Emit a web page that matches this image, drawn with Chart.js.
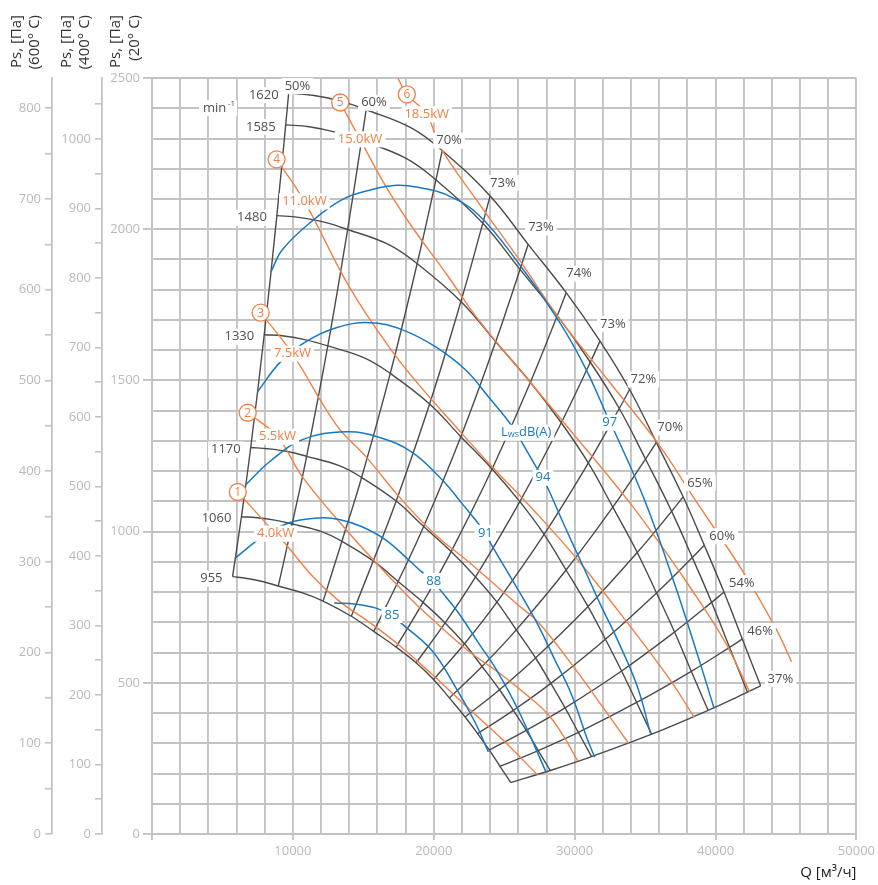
<!DOCTYPE html>
<html>
<head>
<meta charset="utf-8">
<script src="https://cdn.jsdelivr.net/npm/chart.js@4.4.0/dist/chart.umd.min.js"></script>
<style>
  html, body { margin: 0; padding: 0; background: #fff; }
  #wrap { width: 878px; height: 885px; }
</style>
</head>
<body>
<div id="wrap"><canvas id="chart1" width="878" height="885"></canvas></div>
<script>
  "use strict";

  // fan speeds, min-1 (points along each curve: flow Q m3/h, static pressure Pa at 20 C)
  var speeds = [1620, 1585, 1480, 1330, 1170, 1060, 955];
  var q1620 = [9700, 11400, 13300, 15200, 18400, 20600, 24000, 26700, 29400, 31800, 33900, 35800, 37700, 39200, 40600, 41900, 43200];
  var p1620 = [2450, 2443, 2425, 2395, 2335, 2260, 2110, 1950, 1790, 1630, 1470, 1295, 1115, 955, 800, 645, 490];
  var q1585 = [9490, 11154, 13013, 14872, 18003, 20155, 23482, 26123, 28765, 31113, 33168, 35027, 36886, 38353, 39723, 40995, 42267];
  var p1585 = [2345, 2339, 2321, 2293, 2235, 2163, 2020, 1867, 1714, 1560, 1407, 1240, 1067, 914, 766, 617, 469];
  var q1480 = [8862, 10415, 12151, 13886, 16810, 18820, 21926, 24393, 26859, 29052, 30970, 32706, 34442, 35812, 37091, 38279, 39467];
  var p1480 = [2045, 2039, 2024, 1999, 1949, 1886, 1761, 1628, 1494, 1360, 1227, 1081, 931, 797, 668, 538, 409];
  var q1330 = [7964, 9359, 10919, 12479, 15106, 16912, 19704, 21920, 24137, 26107, 27832, 29391, 30951, 32183, 33332, 34399, 35467];
  var p1330 = [1651, 1647, 1634, 1614, 1574, 1523, 1422, 1314, 1207, 1099, 991, 873, 752, 644, 539, 435, 330];
  var q1170 = [7006, 8233, 9606, 10978, 13289, 14878, 17333, 19283, 21233, 22967, 24483, 25856, 27228, 28311, 29322, 30261, 31200];
  var p1170 = [1278, 1274, 1265, 1249, 1218, 1179, 1101, 1017, 934, 850, 767, 675, 582, 498, 417, 336, 256];
  var q1060 = [6347, 7459, 8702, 9946, 12039, 13479, 15704, 17470, 19237, 20807, 22181, 23425, 24668, 25649, 26565, 27416, 28267];
  var p1060 = [1049, 1046, 1038, 1025, 1000, 968, 903, 835, 766, 698, 629, 554, 477, 409, 343, 276, 210];
  var q955 = [5718, 6720, 7840, 8961, 10847, 12144, 14148, 15740, 17332, 18746, 19984, 21104, 22225, 23109, 23934, 24700, 25467];
  var p955 = [851, 845, 835, 820, 795, 770, 720, 670, 618, 566, 511, 450, 387, 332, 278, 224, 170];

  // efficiency lines run through these points of every speed curve
  var effCols = [0, 3, 5, 6, 7, 8, 9, 10, 11, 12, 13, 14, 15, 16];
  var effLabels = ['50%', '60%', '70%', '73%', '73%', '74%', '73%', '72%', '70%', '65%', '60%', '54%', '46%', '37%'];

  // shaft power lines
  var powerNames = ['1', '2', '3', '4', '5', '6'];
  var powerLabels = ['4.0kW', '5.5kW', '7.5kW', '11.0kW', '15.0kW', '18.5kW'];
  var pw1Q = [6090, 8772, 9407, 11383, 13288, 15405, 17523, 19851, 22462, 24933, 27403];
  var pw1P = [1131, 993, 963, 853, 770, 701, 625, 529, 416, 310, 194];
  var pw2Q = [6796, 8913, 10677, 13782, 15900, 18228, 19428, 22462, 24580, 26698, 28108, 29167, 30226];
  var pw2P = [1393, 1314, 1181, 1006, 897, 784, 730, 605, 535, 456, 396, 327, 241];
  var pw3Q = [7713, 9972, 13077, 15194, 17734, 20134, 22462, 25992, 27403, 29732, 31637, 33825];
  var pw3P = [1724, 1588, 1353, 1247, 1105, 989, 900, 757, 701, 565, 443, 300];
  var pw4Q = [8842, 10818, 13994, 16817, 18934, 21757, 23874, 27403, 30226, 33755, 36790, 38483];
  var pw4P = [2231, 2092, 1810, 1611, 1486, 1337, 1228, 1055, 906, 698, 509, 386];
  var pw5Q = [13359, 14770, 16605, 18440, 20839, 23168, 26698, 29662, 33755, 35872, 37989, 40601, 42436];
  var pw5P = [2419, 2297, 2141, 2009, 1856, 1701, 1502, 1337, 1105, 972, 830, 641, 469];
  var pw6Q = [17450, 18087, 19498, 20486, 23168, 26204, 28815, 32343, 35872, 38554, 42012, 44342, 45400];
  var pw6P = [2500, 2446, 2380, 2270, 2088, 1890, 1711, 1502, 1294, 1105, 863, 674, 569];

  // sound power lines, Lws dB(A)
  var noiseLabels = ['97', '94', '91', '88', '85'];
  var nz97Q = [8450, 9266, 11312, 13500, 15617, 17381, 18934, 20839, 23168, 26204, 28815, 30720, 32202, 32484, 32837, 34954, 37072, 38907, 39895];
  var nz97P = [1860, 1933, 2025, 2098, 2131, 2145, 2138, 2115, 2048, 1876, 1701, 1545, 1393, 1360, 1330, 1105, 830, 565, 416];
  var nz94Q = [7490, 9054, 10818, 13077, 15405, 17734, 20134, 22251, 23874, 25286, 25850, 27262, 27756, 29309, 30720, 31849, 33049, 34460, 35378];
  var nz94P = [1462, 1558, 1625, 1674, 1691, 1668, 1611, 1535, 1446, 1366, 1327, 1214, 1178, 1016, 873, 757, 641, 486, 333];
  var nz91Q = [6660, 8348, 10677, 13782, 16111, 18440, 20557, 21968, 23662, 24015, 25992, 27403, 28603, 29732, 30931, 31425];
  var nz91P = [1155, 1231, 1304, 1330, 1312, 1263, 1173, 1095, 996, 963, 807, 691, 575, 466, 310, 254];
  var nz88Q = [5920, 7854, 9760, 11877, 13288, 14911, 16605, 18228, 19146, 19992, 20345, 21757, 23168, 24368, 25992, 27968];
  var nz88P = [913, 983, 1029, 1045, 1040, 1016, 972, 906, 867, 837, 814, 731, 632, 549, 410, 205];
  var nz85Q = [12935, 14488, 15900, 17028, 17663, 19851, 21545, 22956, 23874];
  var nz85P = [764, 760, 747, 724, 698, 608, 486, 367, 271];

  // tick labels
  var qTickLabels = [10000, 20000, 30000, 40000, 50000];
  var p20TickLabels = [0, 500, 1000, 1500, 2000, 2500];
  var p400TickLabels = [0, 100, 200, 300, 400, 500, 600, 700, 800, 900, 1000];
  var p600TickLabels = [0, 100, 200, 300, 400, 500, 600, 700, 800];

  var grey = '#4b4b4b';
  var orange = '#ef8046';
  var blue = '#1879c2';
  var gridGrey = '#c3c3c3';
  var tickGrey = '#b9b9b9';
  var fontName = '"Open Sans", sans-serif';

  Chart.defaults.font.family = fontName;

  function pts(qs, ps) {
    return qs.map(function(q, i) { return { x: q, y: ps[i] }; });
  }
  function lineSet(data, color, width, order) {
    return {
      data: data,
      showLine: true,
      borderColor: color,
      borderWidth: width,
      pointRadius: 0,
      pointHoverRadius: 0,
      fill: false,
      tension: 0.4,
      order: order
    };
  }

  var speedQ = [q1620, q1585, q1480, q1330, q1170, q1060, q955];
  var speedP = [p1620, p1585, p1480, p1330, p1170, p1060, p955];
  var powerQ = [pw1Q, pw2Q, pw3Q, pw4Q, pw5Q, pw6Q];
  var powerP = [pw1P, pw2P, pw3P, pw4P, pw5P, pw6P];
  var noiseQ = [nz97Q, nz94Q, nz91Q, nz88Q, nz85Q];
  var noiseP = [nz97P, nz94P, nz91P, nz88P, nz85P];

  var datasets = [];
  noiseQ.forEach(function(q, i) { datasets.push(lineSet(pts(q, noiseP[i]), blue, 1.5, 1)); });
  powerQ.forEach(function(q, i) { datasets.push(lineSet(pts(q, powerP[i]), orange, 1.4, 2)); });
  speedQ.forEach(function(q, i) { datasets.push(lineSet(pts(q, speedP[i]), grey, 1.4, 3)); });
  effCols.forEach(function(c) {
    var d = [];
    for (var k = speedQ.length - 1; k >= 0; k--) d.push({ x: speedQ[k][c], y: speedP[k][c] });
    datasets.push(lineSet(d, grey, 1.4, 3));
  });

  // label placement (pixels)
  var effDx = [-4, -5, -6, 0, 0, 0, 0, 1, 1, 4, 5, 5, 5, 7];
  var effDy = [-7, -7, -10, -13, -17, -19, -17, -10, -15, -14, -9, -9, -8, -7];
  var circleIdx = [0, 0, 0, 0, 0, 1];
  var noiseLabelIdx = [13, 12, 8, 9, 3];

  function boxText(ctx, text, x, y, align, color, size) {
    ctx.font = size + 'px ' + fontName;
    var w = ctx.measureText(text).width;
    var left = align === 'right' ? x - w : (align === 'center' ? x - w / 2 : x);
    ctx.fillStyle = '#ffffff';
    ctx.fillRect(left - 3, y - 8, w + 6, 16);
    ctx.fillStyle = color;
    ctx.textAlign = 'left';
    ctx.textBaseline = 'middle';
    ctx.fillText(text, left, y);
  }

  var chartLabels = {
    id: 'chartLabels',
    afterDatasetsDraw: function(chart) {
      var ctx = chart.ctx;
      var xs = chart.scales.x, ys = chart.scales.y;
      ctx.save();

      // speed labels
      speeds.forEach(function(n, k) {
        boxText(ctx, String(n), xs.getPixelForValue(speedQ[k][0]) - 10, ys.getPixelForValue(speedP[k][0]) + 2, 'right', '#505050', 13);
      });

      // min-1
      var mx = xs.getPixelForValue(3620), my = ys.getPixelForValue(2400);
      ctx.fillStyle = '#fff';
      ctx.fillRect(mx - 4, my - 8, 38, 16);
      ctx.fillStyle = '#505050';
      ctx.textAlign = 'left';
      ctx.textBaseline = 'middle';
      ctx.font = '13px ' + fontName;
      ctx.fillText('min', mx, my);
      ctx.font = '8px ' + fontName;
      ctx.fillText('-1', mx + 25, my - 5);

      // efficiency labels
      effCols.forEach(function(c, i) {
        boxText(ctx, effLabels[i], xs.getPixelForValue(q1620[c]) + effDx[i], ys.getPixelForValue(p1620[c]) + effDy[i], 'left', '#505050', 13);
      });

      // power lines: circle number + kW label
      powerQ.forEach(function(q, i) {
        var ci = circleIdx[i];
        var cx = xs.getPixelForValue(q[ci]), cy = ys.getPixelForValue(powerP[i][ci]);
        var lx = xs.getPixelForValue(q[ci + 1]), ly = ys.getPixelForValue(powerP[i][ci + 1]);
        boxText(ctx, powerLabels[i], lx, ly, 'center', orange, 13);
        ctx.beginPath();
        ctx.arc(cx, cy, 8.5, 0, Math.PI * 2);
        ctx.fillStyle = '#fff';
        ctx.fill();
        ctx.lineWidth = 1.3;
        ctx.strokeStyle = orange;
        ctx.stroke();
        ctx.fillStyle = orange;
        ctx.font = '12px ' + fontName;
        ctx.textAlign = 'center';
        ctx.textBaseline = 'middle';
        ctx.fillText(powerNames[i], cx, cy + 0.5);
      });

      // noise labels
      noiseQ.forEach(function(q, i) {
        var j = noiseLabelIdx[i];
        boxText(ctx, noiseLabels[i], xs.getPixelForValue(q[j]), ys.getPixelForValue(noiseP[i][j]), 'center', blue, 13);
      });

      // Lws dB(A)
      var wx = xs.getPixelForValue(nz94Q[10]) + 10, wy = ys.getPixelForValue(nz94P[10]);
      ctx.font = '13px ' + fontName;
      var wL = ctx.measureText('L').width, wD = ctx.measureText('dB(A)').width;
      ctx.font = '9px ' + fontName;
      var wS = ctx.measureText('ws').width;
      var tot = wL + wS + wD;
      var left = wx - tot / 2;
      ctx.fillStyle = '#fff';
      ctx.fillRect(left - 3, wy - 8, tot + 6, 16);
      ctx.fillStyle = blue;
      ctx.textAlign = 'left';
      ctx.textBaseline = 'middle';
      ctx.font = '13px ' + fontName;
      ctx.fillText('L', left, wy);
      ctx.font = '9px ' + fontName;
      ctx.fillText('ws', left + wL, wy + 2);
      ctx.font = '13px ' + fontName;
      ctx.fillText('dB(A)', left + wL + wS, wy);

      ctx.restore();
    },
    afterDraw: function(chart) {
      var ctx = chart.ctx;
      var titles = [
        ['Ps, [Па]', '(600° C)', 17, 35],
        ['Ps, [Па]', '(400° C)', 67, 85],
        ['Ps, [Па]', '(20° C)', 116, 135]
      ];
      ctx.save();
      ctx.fillStyle = '#333';
      ctx.font = '15px ' + fontName;
      ctx.textAlign = 'right';
      ctx.textBaseline = 'middle';
      titles.forEach(function(t) {
        [[t[0], t[2]], [t[1], t[3]]].forEach(function(l) {
          ctx.save();
          ctx.translate(l[1], 15);
          ctx.rotate(-Math.PI / 2);
          ctx.fillText(l[0], 0, 0);
          ctx.restore();
        });
      });
      ctx.restore();
    }
  };

  function sideAxis(max, weight, labels, width) {
    return {
      type: 'linear',
      position: 'left',
      min: 0,
      max: max,
      weight: weight,
      afterFit: function(s) { s.width = width; },
      ticks: {
        stepSize: 50,
        includeBounds: false,
        autoSkip: false,
        color: tickGrey,
        padding: 4,
        font: { size: 13 },
        callback: function(v) { return labels.indexOf(v) >= 0 ? v : ''; }
      },
      grid: { display: true, drawOnChartArea: false, tickLength: 7, color: gridGrey, lineWidth: 1.6 },
      border: { display: true, color: gridGrey, width: 1.8 }
    };
  }

  var ctx = document.getElementById('chart1').getContext('2d');
  var myChart = new Chart(ctx, {
    type: 'scatter',
    data: { datasets: datasets },
    plugins: [chartLabels],
    options: {
      responsive: false,
      animation: false,
      events: [],
      layout: { padding: { top: 78, right: 18, left: 0, bottom: 0 } },
      plugins: { legend: { display: false }, tooltip: { enabled: false } },
      scales: {
        x: {
          type: 'linear',
          position: 'bottom',
          min: 0,
          max: 50000,
          afterFit: function(s) { s.height = 51; },
          ticks: {
            stepSize: 2000,
            autoSkip: false,
            maxRotation: 0,
            color: tickGrey,
            padding: 3,
            font: { size: 13 },
            callback: function(v) { return qTickLabels.indexOf(v) >= 0 ? v : ''; }
          },
          grid: {
            color: gridGrey,
            lineWidth: 1.9,
            tickLength: 6,
            tickColor: function(c) { return c.tick && c.tick.value % 10000 === 0 ? gridGrey : 'rgba(0,0,0,0)'; }
          },
          border: { color: gridGrey, width: 1.9 },
          title: {
            display: true,
            text: 'Q [м³/ч]',
            align: 'end',
            color: '#222',
            font: { size: 15 },
            padding: { top: 2, bottom: 3 }
          }
        },
        y: {
          type: 'linear',
          position: 'left',
          min: 0,
          max: 2500,
          weight: 0,
          afterFit: function(s) { s.width = 50; },
          ticks: {
            stepSize: 100,
            autoSkip: false,
            color: tickGrey,
            padding: 3,
            font: { size: 13 },
            callback: function(v) { return p20TickLabels.indexOf(v) >= 0 ? v : ''; }
          },
          grid: {
            color: gridGrey,
            lineWidth: 1.9,
            tickLength: 9,
            tickColor: function(c) { return c.tick && c.tick.value % 500 === 0 ? gridGrey : 'rgba(0,0,0,0)'; }
          },
          border: { color: gridGrey, width: 1.9 }
        },
        y400: sideAxis(1087.5, 1, p400TickLabels, 50),
        y600: sideAxis(833.33, 2, p600TickLabels, 52)
      }
    }
  });
</script>
</body>
</html>
